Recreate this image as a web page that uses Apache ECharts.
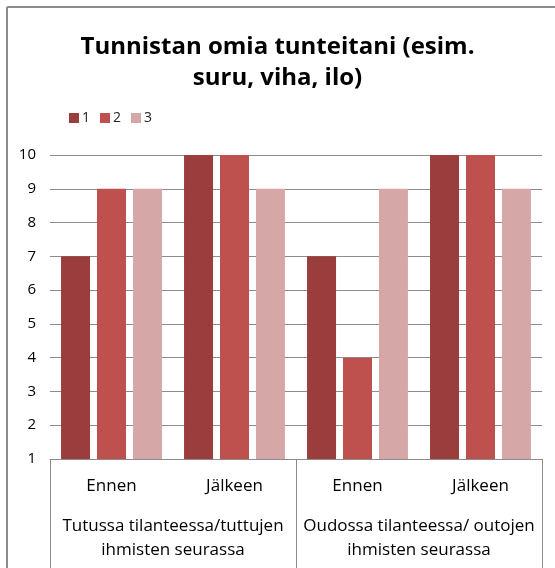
<!DOCTYPE html>
<html>
<head>
<meta charset="utf-8">
<script src="https://cdn.jsdelivr.net/npm/echarts@6/dist/echarts.min.js"></script>
<style>
  html, body { margin: 0; padding: 0; background: #fff; }
  #chart { width: 555px; height: 568px; }
</style>
</head>
<body>
<div id="chart"></div>
<script>
const categories = ['Ennen', 'Jälkeen', 'Ennen', 'Jälkeen'];
const groups = ['Tutussa tilanteessa/tuttujen\nihmisten seurassa', 'Oudossa tilanteessa/ outojen\nihmisten seurassa'];
const seriesNames = ['1', '2', '3'];
const values1 = [7, 10, 7, 10];
const values2 = [9, 10, 4, 10];
const values3 = [9, 9, 9, 9];
const colors = ['#9A3D3C', '#BE504E', '#D5A8A7'];

const chart = echarts.init(document.getElementById('chart'));
const font = "'Open Sans', 'Liberation Sans', sans-serif";

const option = {
    color: colors,
    animation: false,
    textStyle: { fontFamily: font },
    title: {
        text: 'Tunnistan omia tunteitani (esim.\nsuru, viha, ilo)',
        left: 'center',
        top: 27,
        textStyle: {
            fontFamily: font,
            fontSize: 24,
            fontWeight: 'bold',
            color: '#000',
            lineHeight: 31
        }
    },
    legend: {
        data: seriesNames,
        left: 64,
        top: 106,
        itemWidth: 10,
        itemHeight: 10,
        itemGap: 10,
        icon: 'rect',
        textStyle: { fontSize: 14, color: '#222', padding: [0, 0, 0, -2] }
    },
    // chart frame: only top and left edges are visible
    graphic: [{
        type: 'line',
        shape: { x1: 7, y1: 7, x2: 555, y2: 7 },
        style: { stroke: '#8c8c8c', lineWidth: 2 }
    }, {
        type: 'line',
        shape: { x1: 7, y1: 7, x2: 7, y2: 568 },
        style: { stroke: '#8c8c8c', lineWidth: 2 }
    }],
    grid: { left: 50, right: 13, top: 155, bottom: 109 },
    xAxis: [{
        type: 'category',
        data: categories,
        axisLine: { lineStyle: { color: '#8c8c8c' } },
        axisTick: { show: false },
        axisLabel: { color: '#000', fontSize: 17, margin: 19, interval: 0 }
    }, {
        type: 'category',
        data: groups,
        position: 'bottom',
        axisLine: { show: false },
        axisTick: { show: true, length: 112, lineStyle: { color: '#8c8c8c' } },
        axisLabel: { color: '#000', fontSize: 17, margin: 55, lineHeight: 24, interval: 0, hideOverlap: false }
    }],
    yAxis: {
        type: 'value',
        min: 1,
        max: 10,
        interval: 1,
        axisLine: { show: false },
        axisTick: { show: false },
        axisLabel: { color: '#000', fontSize: 15, margin: 14 },
        splitLine: { lineStyle: { color: '#8c8c8c' } }
    },
    series: [
        { name: seriesNames[0], type: 'bar', data: values1, barWidth: 29, barGap: '24%', barCategoryGap: '18%' },
        { name: seriesNames[1], type: 'bar', data: values2, barWidth: 29, barGap: '24%' },
        { name: seriesNames[2], type: 'bar', data: values3, barWidth: 29, barGap: '24%' }
    ]
};
chart.setOption(option);
</script>
</body>
</html>
